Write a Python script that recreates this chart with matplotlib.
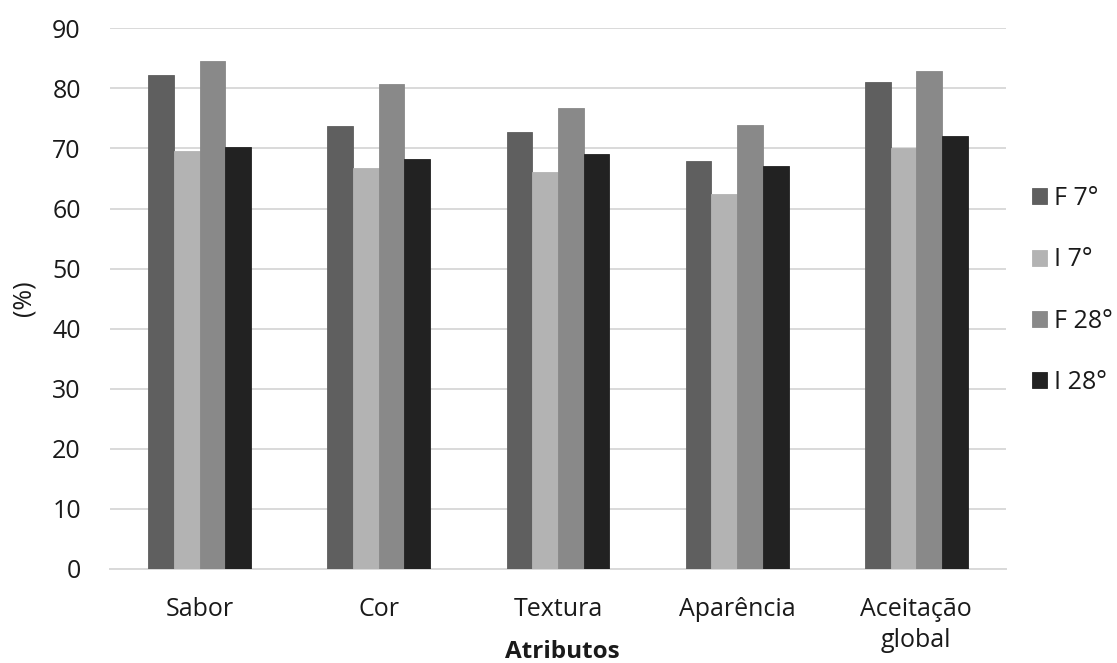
import matplotlib
matplotlib.use("Agg")
import matplotlib.pyplot as plt
import numpy as np

plt.rcParams['font.family'] = ['Open Sans', 'DejaVu Sans']

categories = ["Sabor", "Cor", "Textura", "Aparência", "Aceitação\nglobal"]
series_names = ["F 7°", "I 7°", "F 28°", "I 28°"]
f7 = [82.3, 73.7, 72.8, 67.9, 81.0]
i7 = [69.6, 66.8, 66.0, 62.5, 70.0]
f28 = [84.6, 80.8, 76.8, 73.9, 82.9]
i28 = [70.3, 68.3, 69.0, 67.1, 72.0]
colors = ["#5f5f5f", "#b3b3b3", "#898989", "#222222"]
yticks = list(range(0, 100, 10))

fig = plt.figure(figsize=(11.17, 6.63), dpi=100)
ax = fig.add_axes([0.0985, 0.1418, 0.802, 0.8155])

x = np.arange(len(categories))
width = 0.1435
for k, (vals, name, col) in enumerate(zip([f7, i7, f28, i28], series_names, colors)):
    ax.bar(x + (k - 1.5) * width, vals, width, color=col, label=name,
           edgecolor=col, linewidth=0.6, zorder=3)

fs = 18
ax.set_xlim(-0.5, len(categories) - 0.5)
ax.set_ylim(0, 90)
ax.set_yticks(yticks)
ax.set_xticks(x)
ax.set_xticklabels(categories, fontsize=fs, color="#1a1a1a", linespacing=1.35)
ax.tick_params(axis='y', labelsize=fs, length=0, pad=21, colors="#1a1a1a")
ax.tick_params(axis='x', length=0, pad=20)
ax.grid(axis='y', color="#d9d9d9", linewidth=1.4, zorder=0)
for s in ["top", "right", "left"]:
    ax.spines[s].set_visible(False)
ax.spines["bottom"].set_color("#d9d9d9")
ax.spines["bottom"].set_linewidth(1.4)

ax.set_ylabel("(%)", fontsize=fs, color="#1a1a1a", labelpad=11)
fig.text(562 / 1117, 1 - 640 / 663, "Atributos", fontsize=17.5, fontweight="bold",
         color="#1a1a1a", ha="center", va="top")

leg = ax.legend(loc="center left", bbox_to_anchor=(1.004, 0.515), frameon=False,
                fontsize=fs, handlelength=0.6, handleheight=0.6, handletextpad=0.3,
                labelspacing=1.45, labelcolor="#1a1a1a")

fig.savefig("out.png", dpi=100, facecolor="white")
